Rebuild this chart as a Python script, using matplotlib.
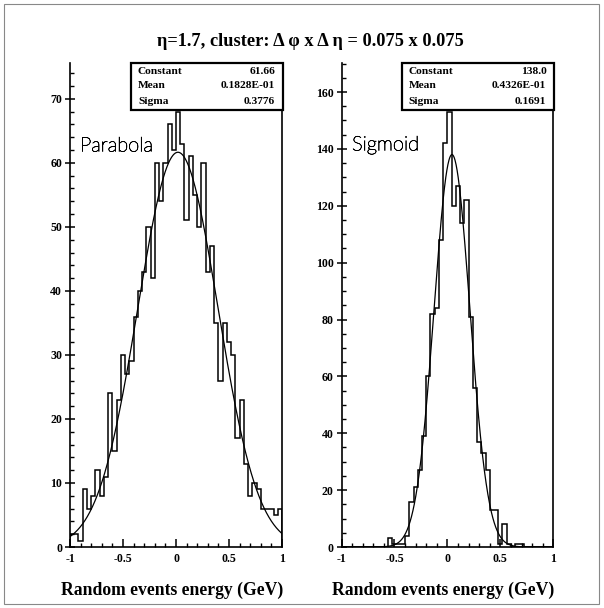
import numpy as np
import matplotlib
matplotlib.use("Agg")
import matplotlib.pyplot as plt
import matplotlib.patheffects as pe
from matplotlib.ticker import MultipleLocator, FixedLocator
from matplotlib.patches import Rectangle

# ---------------- data ----------------
bin_edges = np.linspace(-1, 1, 51)

parabola_counts = [2, 2, 1, 9, 6, 8, 12, 8, 11, 24, 15, 23, 30, 27, 29, 36,
                   40, 43, 50, 42, 60, 54, 60, 66, 62, 68, 63, 51, 61, 55, 50, 60, 43, 47,
                   35, 26, 35, 32, 30, 17, 23, 13, 8, 10, 9, 6, 6, 6, 5, 6]
sigmoid_counts = [0, 0, 0, 0, 0, 0, 0, 0, 0, 0, 0, 3, 1, 1, 1, 4,
                  16, 21, 27, 39, 60, 82, 84, 108, 142, 153, 120, 127, 114, 122,
                  81, 56, 37, 33, 27, 13, 13, 1, 8, 1, 0, 1, 1, 0, 0, 0, 0, 0, 0, 0]

parabola_fit = {"Constant": 61.66, "Mean": 0.1828e-01, "Sigma": 0.3776}
sigmoid_fit = {"Constant": 138.0, "Mean": 0.4326e-01, "Sigma": 0.1691}
parabola_fit_text = ["61.66", "0.1828E-01", "0.3776"]
sigmoid_fit_text = ["138.0", "0.4326E-01", "0.1691"]

x_ticks = [-1, -0.5, 0, 0.5, 1]
x_ticklabels = ["-1", "-0.5", "0", "0.5", "1"]
left_yticks = [0, 10, 20, 30, 40, 50, 60, 70]
right_yticks = [0, 20, 40, 60, 80, 100, 120, 140, 160]

title = "η=1.7, cluster: Δ φ x Δ η = 0.075 x 0.075"
xlabel = "Random events energy (GeV)"

# ---------------- layout ----------------
W, H = 604, 608
DPI = 100
fig = plt.figure(figsize=(W / DPI, H / DPI), dpi=DPI)
fig.patch.set_facecolor("white")

SERIF = ["Liberation Serif", "DejaVu Serif"]


def fx(px):
    return px / W


def fy(py):
    return 1 - py / H


# outer border
fig.add_artist(Rectangle((fx(4), fy(604)), fx(595), (600) / H, transform=fig.transFigure,
                         fill=False, edgecolor="#888888", linewidth=0.8))

fig.text(fx(310), fy(42), title, ha="center", va="center", fontsize=13.2,
         fontweight="bold", family=SERIF)


def make_panel(x0, x1, counts, fit, fit_text, ymax, yticks, ymajor, yminor, label, label_xy, box_x0):
    top, bottom = 63, 547
    ax = fig.add_axes([fx(x0), fy(bottom), fx(x1 - x0), (bottom - top) / H])
    ax.set_xlim(-1, 1)
    ax.set_ylim(0, ymax)
    ax.stairs(counts, bin_edges, color="black", linewidth=1.1, baseline=0)
    xs = np.linspace(-1, 1, 600)
    ys = fit["Constant"] * np.exp(-0.5 * ((xs - fit["Mean"]) / fit["Sigma"]) ** 2)
    ax.plot(xs, ys, color="black", linewidth=0.9)

    ax.spines["top"].set_visible(False)
    for s in ["left", "bottom", "right"]:
        ax.spines[s].set_linewidth(1.2)

    ax.xaxis.set_major_locator(FixedLocator(x_ticks))
    ax.set_xticklabels(x_ticklabels)
    ax.xaxis.set_minor_locator(MultipleLocator(0.1))
    ax.yaxis.set_major_locator(FixedLocator(yticks))
    ax.yaxis.set_minor_locator(MultipleLocator(yminor))
    ax.tick_params(axis="x", which="major", direction="in", length=5.8, width=1.1, pad=4,
                   labelsize=8.6)
    ax.tick_params(axis="x", which="minor", direction="in", length=2.9, width=1.0)
    ax.tick_params(axis="y", which="major", direction="inout", length=7.5, width=1.1, pad=2,
                   labelsize=8.6)
    ax.tick_params(axis="y", which="minor", direction="in", length=3.2, width=1.0)
    ax.tick_params(right=False, top=False, which="both")
    for lab in ax.get_xticklabels() + ax.get_yticklabels():
        lab.set_fontweight("bold")
        lab.set_family(SERIF)

    # stats box
    box_y0, box_y1 = 63, 109.5
    rect = Rectangle((fx(box_x0), fy(box_y1)), fx(x1 + 1 - box_x0), (box_y1 - box_y0) / H,
                     transform=fig.transFigure, facecolor="white", edgecolor="black",
                     linewidth=1.6, zorder=5)
    fig.add_artist(rect)
    names = ["Constant", "Mean", "Sigma"]
    rows = [71.5, 86.0, 101.0]
    for name, val, ry in zip(names, fit_text, rows):
        fig.text(fx(box_x0 + 7), fy(ry), name, ha="left", va="center", fontsize=8.2,
                 fontweight="bold", family=SERIF, zorder=6)
        fig.text(fx(x1 - 7), fy(ry), val, ha="right", va="center", fontsize=8.2,
                 fontweight="bold", family=SERIF, zorder=6)

    t = fig.text(fx(label_xy[0]), fy(label_xy[1]), label, ha="left", va="baseline",
                 fontsize=14.5, fontweight="light", family=["Lato", "DejaVu Sans"],
                 color="black")
    t.set_path_effects([pe.withStroke(linewidth=0.45, foreground="black")])

    fig.text(fx((x0 + x1) / 2 - 4), fy(590), xlabel, ha="center", va="center",
             fontsize=12.7, fontweight="bold", family=SERIF)
    return ax


make_panel(70, 282, parabola_counts, parabola_fit, parabola_fit_text, 75.6,
           left_yticks, 10, 2, "Parabola", (80, 151.5), 131)
make_panel(341.5, 553.3, sigmoid_counts, sigmoid_fit, sigmoid_fit_text, 170.2,
           right_yticks, 20, 5, "Sigmoid", (352, 150.5), 401.5)

fig.savefig("out.png", dpi=DPI, facecolor="white")
